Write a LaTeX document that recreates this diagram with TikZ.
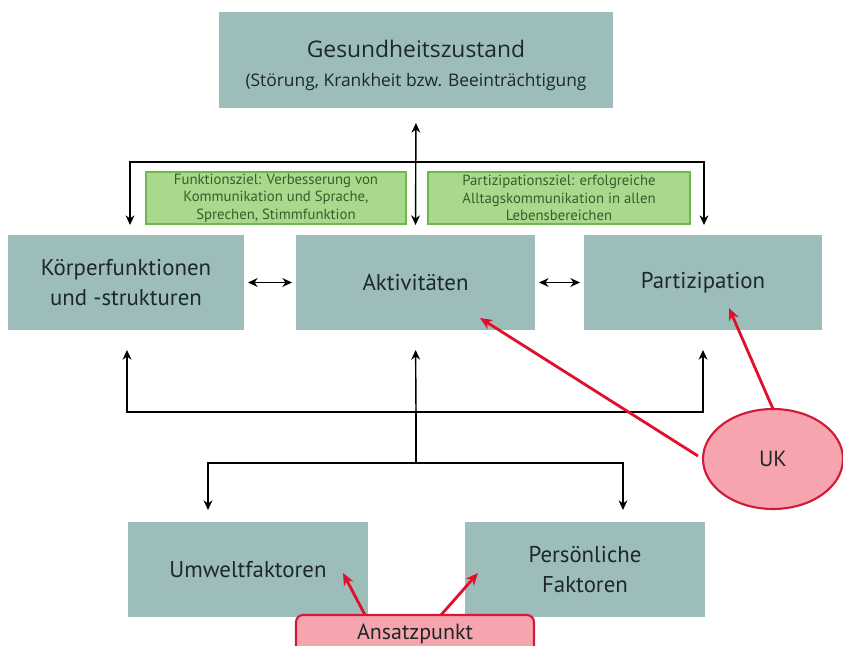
\documentclass[tikz,border=0pt]{standalone}
\usepackage{fontspec}
\setmainfont{PT Sans}
\newfontfamily\topfont{Open Sans}
\usetikzlibrary{arrows.meta,shapes.geometric}
\definecolor{boxfill}{HTML}{9DBDBB}
\definecolor{zielfill}{HTML}{A9D98C}
\definecolor{zielline}{HTML}{6FB74A}
\definecolor{zieltxt}{HTML}{3A5C2C}
\definecolor{ukfill}{HTML}{F6A5AE}
\definecolor{ukline}{HTML}{D2193A}
\definecolor{ukarrow}{HTML}{E0102A}
\definecolor{txt}{HTML}{1E2828}

\begin{document}
\begin{tikzpicture}[x=0.02cm, y=-0.02cm,
    every node/.style={align=center, text=txt, inner sep=0pt, outer sep=0pt},
    icfbox/.style={fill=boxfill, minimum height=1.9cm, font=\fontsize{13}{17}\selectfont},
    zielbox/.style={fill=zielfill, draw=zielline, line width=0.8pt, minimum height=1.04cm, text=zieltxt,
        font=\fontsize{8.4}{10}\selectfont},
    link/.style={line width=0.8pt, black, -{Stealth[length=5.5pt,width=5pt]}},
    twolink/.style={line width=0.8pt, black, {Stealth[length=5.5pt,width=5pt]}-{Stealth[length=5.5pt,width=5pt]}},
    redlink/.style={line width=1.6pt, ukarrow, -{Stealth[length=7pt,width=6pt]}}]
    \useasboundingbox (0,0) rectangle (843,646);

    \node[icfbox, minimum width=7.88cm, minimum height=1.92cm](gesund) at (416, 60)
        {\rule{0pt}{16pt}{\topfont\fontsize{13}{15}\selectfont Gesundheitszustand}\\[-1pt]
         {\topfont\fontsize{9.9}{12}\selectfont (Störung, Krankheit bzw. Beeinträchtigung}};

    \node[icfbox, minimum width=4.72cm](koerper) at (126, 282.5) {Körperfunktionen\\ und -strukturen};
    \node[icfbox, minimum width=4.78cm](akt) at (415.5, 282.5) {Aktivitäten};
    \node[icfbox, minimum width=4.76cm](part) at (703, 282.5) {Partizipation};

    \node[zielbox, minimum width=5.2cm](funkziel) at (276, 198)
        {Funktionsziel: Verbesserung von\\ Kommunikation und Sprache,\\ Sprechen, Stimmfunktion};
    \node[zielbox, minimum width=5.24cm](partziel) at (559, 198)
        {Partizipationsziel: erfolgreiche\\ Alltagskommunikation in allen\\ Lebensbereichen};

    \node[icfbox, minimum width=4.8cm](umwelt) at (248, 569.5) {Umweltfaktoren};
    \node[icfbox, minimum width=4.8cm](pers) at (585, 569.5) {Persönliche\\ Faktoren};

    \node[fill=ukfill, draw=ukline, line width=1.2pt, rounded corners=4pt, minimum width=4.76cm, minimum height=0.76cm,
        font=\fontsize{12.5}{14}\selectfont](ansatz) at (415, 634) {Ansatzpunkt};
    \node[ellipse, fill=ukfill, draw=ukline, line width=1.2pt, minimum width=2.8cm, minimum height=2cm,
        font=\fontsize{12.5}{14}\selectfont](uk) at (773, 459) {UK};

    % obere Verbindungen
    \coordinate (topjoin) at (416, 162);
    \draw[twolink, shorten <=0.3cm, shorten >=0.2cm] (gesund.south) -- (akt.north);
    \draw[link, shorten >=0.2cm] (topjoin) -| ([shift={(4,0)}]koerper.north);
    \draw[link, shorten >=0.2cm] (topjoin) -| ([shift={(1,0)}]part.north);
    \draw[twolink, shorten <=0.08cm, shorten >=0.08cm] (koerper.east) -- (akt.west);
    \draw[twolink, shorten <=0.08cm, shorten >=0.08cm] (akt.east) -- (part.west);

    % untere Verbindungen
    \coordinate (midjoin) at (416, 412);
    \coordinate (lowjoin) at (416, 463);
    \draw[link, shorten >=0.4cm] (midjoin) -| ([shift={(1,0)}]koerper.south);
    \draw[link, shorten >=0.4cm] (midjoin) -- (akt.south);
    \draw[link, shorten >=0.4cm] (midjoin) -| (part.south);
    \draw[line width=0.8pt] (midjoin) -- (lowjoin);
    \draw[link, shorten >=0.24cm] (lowjoin) -| ([shift={(-40,0)}]umwelt.north);
    \draw[link, shorten >=0.24cm] (lowjoin) -| ([shift={(38,0)}]pers.north);

    % rote Pfeile
    \draw[redlink] ([shift={(-5,-3)}]uk.west) -- ([shift={(64.5,35.5)}]akt.center);
    \draw[redlink] (uk.north) -- ([shift={(26,25.5)}]part.center);
    \draw[redlink] ([shift={(-50,0)}]ansatz.north) -- ([shift={(95,3.5)}]umwelt.center);
    \draw[redlink] ([shift={(26,0)}]ansatz.north) -- ([shift={(-107,3.5)}]pers.center);
\end{tikzpicture}
\end{document}
